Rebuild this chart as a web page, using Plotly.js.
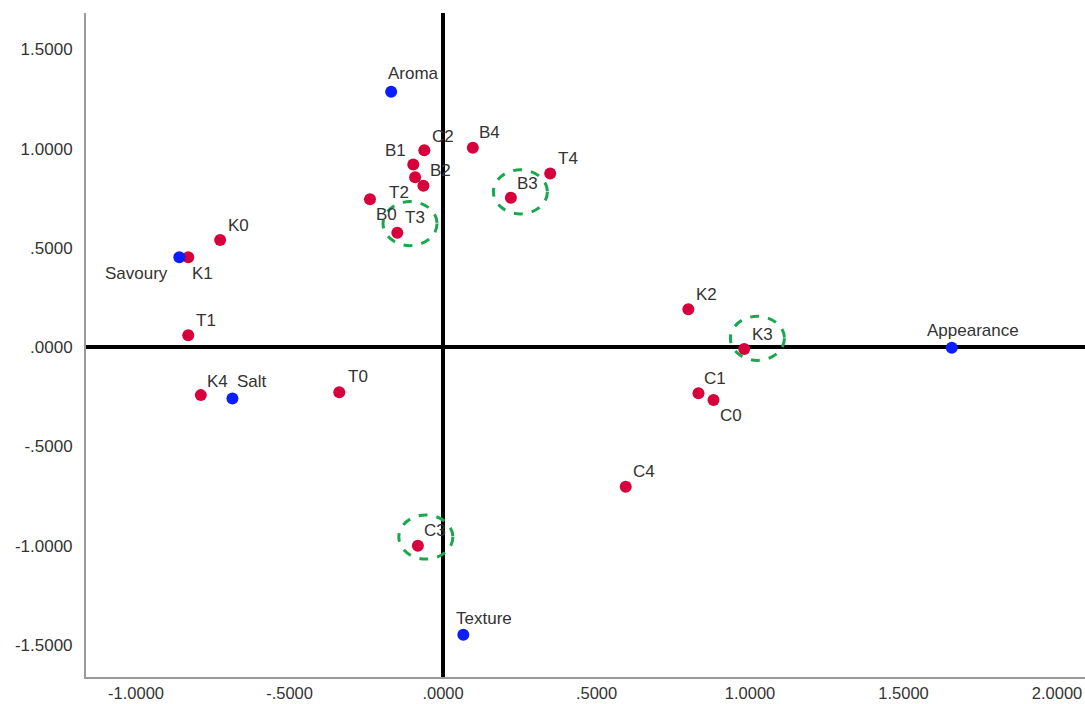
<!DOCTYPE html>
<html>
<head>
<meta charset="utf-8">
<script src="https://cdn.plot.ly/plotly-3.0.1.min.js"></script>
<style>
  html, body { margin: 0; padding: 0; background: #ffffff; }
  #chart { width: 1085px; height: 704px; }
</style>
</head>
<body>
<div id="chart"></div>
<script>
// Variables (blue points)
const varNames = ["Aroma", "Savoury", "Salt", "Appearance", "Texture"];
const varX = [-0.169, -0.859, -0.686, 1.657, 0.066];
const varY = [1.286, 0.452, -0.259, -0.003, -1.449];

// Samples (red points)
const objNames = ["K0", "K1", "T1", "K4", "T0", "C2", "B1", "B2", "T2", "B0", "T3", "B4", "B3", "T4", "K2", "K3", "C1", "C0", "C4", "C3"];
const objX = [-0.726, -0.830, -0.830, -0.789, -0.338, -0.061, -0.097, -0.064, -0.091, -0.238, -0.149, 0.097, 0.221, 0.349, 0.799, 0.981, 0.832, 0.881, 0.595, -0.082];
const objY = [0.539, 0.452, 0.060, -0.242, -0.228, 0.992, 0.920, 0.813, 0.855, 0.745, 0.576, 1.004, 0.752, 0.875, 0.191, -0.010, -0.233, -0.267, -0.704, -1.001];

// Highlighted (circled) samples: centre of each dashed ring
const ringNames = ["T3", "B3", "K3", "C3"];
const ringX = [-0.1075, 0.252, 1.024, -0.056];
const ringY = [0.622, 0.782, 0.044, -0.957];

// Axis ticks
const tickVals = [-1.5, -1.0, -0.5, 0, 0.5, 1.0, 1.5, 2.0];
const tickText = ["-1.5000", "-1.0000", "-.5000", ".0000", ".5000", "1.0000", "1.5000", "2.0000"];

// Label offsets (pixels) – styling only
const varDx = [22, -43, 20, 21, 21];
const varDy = [18, -16, 17, 17, 16];
const objDx = [18, 14, 18, 17, 19, 19, -18, 17, -16, 17, 18, 17, 17, 18, 18, 18, 17, 17, 18, 17];
const objDy = [15, -16, 15, 14, 16, 14, 14, 15, -15, -15, 15, 15, 14, 15, 15, 15, 15, -15, 15, 15];

const FONT = "Liberation Sans, Arial, sans-serif";
const RED = "#d8003a";
const BLUE = "#0a1eff";
const GREEN = "#1aa84f";

const traces = [
  { type: "scatter", mode: "markers", x: objX, y: objY, text: objNames,
    marker: { color: RED, size: 12 }, hoverinfo: "text", showlegend: false, cliponaxis: false },
  { type: "scatter", mode: "markers", x: varX, y: varY, text: varNames,
    marker: { color: BLUE, size: 12 }, hoverinfo: "text", showlegend: false, cliponaxis: false }
];

const annotations = [];
varNames.forEach((n, i) => annotations.push({
  x: varX[i], y: varY[i], xref: "x", yref: "y", text: n, showarrow: false,
  xshift: varDx[i], yshift: varDy[i], font: { family: FONT, size: 17, color: "#333333" }
}));
objNames.forEach((n, i) => annotations.push({
  x: objX[i], y: objY[i], xref: "x", yref: "y", text: n, showarrow: false,
  xshift: objDx[i], yshift: objDy[i], font: { family: FONT, size: 17, color: "#333333" }
}));

const rx = 0.088, ry = 0.111;
const shapes = ringNames.map((n, i) => ({
  type: "circle", xref: "x", yref: "y",
  x0: ringX[i] - rx, x1: ringX[i] + rx, y0: ringY[i] - ry, y1: ringY[i] + ry,
  line: { color: GREEN, width: 3, dash: "dash" }, layer: "above"
}));

const layout = {
  width: 1085, height: 704,
  margin: { l: 86, r: 0, t: 13, b: 27 },
  paper_bgcolor: "#ffffff", plot_bgcolor: "#ffffff",
  showlegend: false,
  xaxis: {
    range: [-1.163, 2.091], tickvals: tickVals, ticktext: tickText,
    showgrid: false, zeroline: true, zerolinecolor: "#000000", zerolinewidth: 3.5,
    showline: true, linecolor: "#999999", linewidth: 2, ticks: "",
    ticklabelstandoff: 0,
    tickfont: { family: FONT, size: 16.5, color: "#333333" }
  },
  yaxis: {
    range: [-1.662, 1.683], tickvals: tickVals, ticktext: tickText,
    showgrid: false, zeroline: true, zerolinecolor: "#000000", zerolinewidth: 3.5,
    showline: true, linecolor: "#999999", linewidth: 2, ticks: "",
    ticklabelstandoff: 8,
    tickfont: { family: FONT, size: 17, color: "#333333" }
  },
  annotations: annotations,
  shapes: shapes
};

Plotly.newPlot("chart", traces, layout, { displayModeBar: false, staticPlot: true });
</script>
</body>
</html>
